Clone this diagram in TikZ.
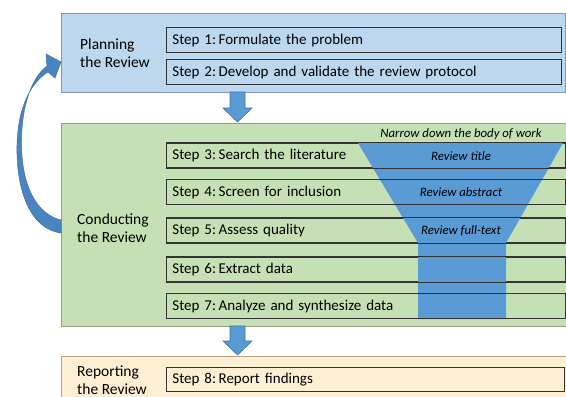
\documentclass[tikz,border=0pt]{standalone}
\usepackage{fontspec}
\setmainfont{Carlito}
\usetikzlibrary{positioning}
\definecolor{planfill}{HTML}{BDD7EE}
\definecolor{condfill}{HTML}{C5E0B4}
\definecolor{repfill}{HTML}{FDEFD3}
\definecolor{frameblue}{HTML}{7D98B3}
\definecolor{framegreen}{HTML}{8FA382}
\definecolor{frameorange}{HTML}{B8A888}
\definecolor{arrowblue}{HTML}{5B9BD5}
\definecolor{arrowedge}{HTML}{41719C}
\definecolor{curveblue}{HTML}{4A84C0}
\definecolor{funnelblue}{HTML}{5B9BD5}
\definecolor{stepedge}{HTML}{333333}
\tikzset{
  phase/.style={draw, line width=1.2pt, anchor=north west, inner sep=0pt},
  stepbox/.style={draw=stepedge, line width=0.8pt, anchor=west, minimum height=24.5pt,
    text width=#1, align=left, inner sep=0pt, inner xsep=6pt, font=\fontsize{15}{17}\selectfont},
  phaselabel/.style={anchor=west, align=left, inner sep=0pt, font=\fontsize{15.5}{17.5}\selectfont},
  funneltext/.style={font=\fontsize{12.8}{14}\selectfont\itshape, inner sep=0pt},
  blockarrow/.style={fill=arrowblue, draw=arrowedge, line width=0.6pt}
}
\begin{document}
\begin{tikzpicture}[x=1pt,y=-1pt]
\useasboundingbox (0,0) rectangle (566,397);
\begin{scope}
\clip (0,0) rectangle (566,397);
% phase frames
\node[phase, draw=frameblue, fill=planfill, minimum width=504pt, minimum height=79pt] (plan) at (61,13) {};
\node[phase, draw=framegreen, fill=condfill, minimum width=510pt, minimum height=203pt] (cond) at (61,123) {};
\node[phase, draw=frameorange, fill=repfill, minimum width=510pt, minimum height=50pt] (rep) at (61,356) {};

% phase labels
\node[phaselabel] (lplan) at (80,53) {Planning\\the Review};
\node[phaselabel] (lcond) at (77,228) {Conducting\\the Review};
\node[phaselabel] (lrep) at (77,380) {Reporting\\the Review};

% steps
\node[stepbox=383pt, fill=planfill] (s1) at (166,40) {Step 1:\,Formulate the problem};
\node[stepbox=383pt, fill=planfill] (s2) at (166,72) {Step 2:\,Develop and validate the review protocol};
\node[stepbox=387pt, fill=condfill] (s3) at (166,155.5) {Step 3:\,Search the literature};
\node[stepbox=387pt, fill=condfill] (s4) at (166,192) {Step 4:\,Screen for inclusion};
\node[stepbox=387pt, fill=condfill] (s5) at (166,230.5) {Step 5:\,Assess quality};
\node[stepbox=387pt, fill=condfill] (s6) at (166,269.5) {Step 6:\,Extract data};
\node[stepbox=387pt, fill=condfill] (s7) at (166,306) {Step 7:\,Analyze and synthesize data};
\node[stepbox=386pt, fill=repfill] (s8) at (166,379.5) {Step 8:\,Report findings};

% funnel
\fill[funnelblue] (358,143) -- (563,143) -- (506,243) -- (506,319) -- (418,319) -- (418,243) -- cycle;
\foreach \s in {s3,s4,s5,s6,s7}{
  \draw[stepedge, line width=0.8pt] (\s.north west) rectangle (\s.south east);
}
\node[funneltext] (narrow) at (461,134) {Narrow down the body of work};
\node[funneltext] (ftitle) at (461,156) {Review title};
\node[funneltext] (fabs) at (461,192) {Review abstract};
\node[funneltext] (ffull) at (461,231) {Review full-text};

% block arrows between phases
\draw[blockarrow] (230,92) -- (245,92) -- (245,108) -- (252,108) -- (237.5,122) -- (223,108) -- (230,108) -- cycle;
\draw[blockarrow] (230,326) -- (245,326) -- (245,341) -- (252,341) -- (237.5,355) -- (223,341) -- (230,341) -- cycle;

% curved feedback arrow from conducting back to planning
\coordinate (cbot) at (cond.west |- 0,233);
\coordinate (ctop) at (cond.west |- 0,220);
\coordinate (tip) at (plan.west |- 0,62);
\fill[curveblue, draw=arrowedge, line width=0.5pt]
  (cbot) .. controls (30,229) and (16,190) .. (17,145)
  .. controls (18,105) and (32,82) .. (48,72)
  -- (55,78) -- (tip) -- (46,54) -- (47,66)
  .. controls (31,78) and (21,108) .. (21.5,145)
  .. controls (22,185) and (36,214) .. (ctop) -- cycle;
\end{scope}
\end{tikzpicture}
\end{document}
